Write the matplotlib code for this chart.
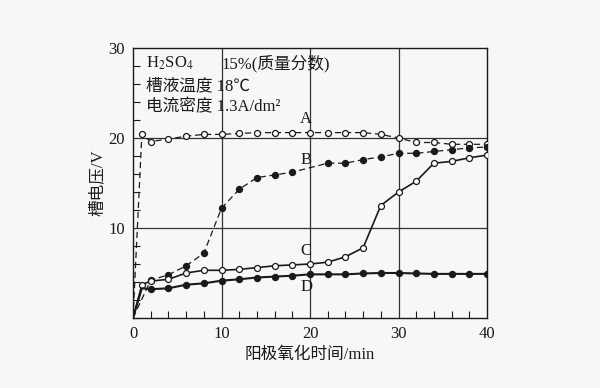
import matplotlib.pyplot as plt
from matplotlib.ticker import MultipleLocator

plt.rcParams['font.family'] = ['Liberation Serif', 'Noto Sans CJK SC']
plt.rcParams['mathtext.fontset'] = 'stix'

# curve data (time in min, cell voltage in V)
a_x = [0, 1, 2, 4, 6, 8, 10, 12, 14, 16, 18, 20, 22, 24, 26, 28, 30, 32, 34, 36, 38, 40]
a_y = [0, 20.4, 19.6, 19.9, 20.2, 20.4, 20.4, 20.5, 20.6, 20.6, 20.6, 20.6, 20.6, 20.6, 20.6, 20.4, 20.0, 19.5, 19.5, 19.3, 19.3, 19.3]

b_x = [0, 2, 4, 6, 8, 10, 12, 14, 16, 18, 22, 24, 26, 28, 30, 32, 34, 36, 38, 40]
b_y = [0, 4.2, 4.8, 5.8, 7.2, 12.2, 14.3, 15.6, 15.9, 16.2, 17.2, 17.2, 17.6, 17.9, 18.3, 18.3, 18.5, 18.7, 18.9, 19.0]

c_x = [0, 1, 2, 4, 6, 8, 10, 12, 14, 16, 18, 20, 22, 24, 26, 28, 30, 32, 34, 36, 38, 40]
c_y = [0, 3.7, 4.1, 4.3, 5.0, 5.3, 5.3, 5.4, 5.6, 5.8, 5.9, 6.0, 6.2, 6.8, 7.8, 12.5, 14.0, 15.2, 17.2, 17.4, 17.8, 18.1]

d_x = [0, 1, 2, 4, 6, 8, 10, 12, 14, 16, 18, 20, 22, 24, 26, 28, 30, 32, 34, 36, 38, 40]
d_y = [0, 3.3, 3.2, 3.3, 3.7, 3.85, 4.15, 4.3, 4.5, 4.6, 4.7, 4.85, 4.85, 4.85, 4.95, 5.0, 5.0, 4.95, 4.9, 4.9, 4.9, 4.9]

bg = '#f7f7f7'
fig = plt.figure(figsize=(6, 3.88), dpi=100, facecolor=bg)
ax = fig.add_axes([0.2217, 0.1804, 0.59, 0.6959])
ax.set_facecolor(bg)

ink = '#1a1a1a'
ms = 4.3
ax.plot(a_x, a_y, color=ink, lw=0.9, ls=(0, (5, 3)), marker='o', ms=ms,
        mfc='white', mec=ink, mew=0.9, markevery=list(range(1, len(a_x))), zorder=3)
ax.plot(b_x, b_y, color=ink, lw=0.9, ls=(0, (5, 3)), marker='o', ms=ms,
        mfc=ink, mec=ink, markevery=list(range(1, len(b_x))), zorder=3)
ax.plot(c_x, c_y, color=ink, lw=1.2, marker='o', ms=ms,
        mfc='white', mec=ink, mew=0.9, markevery=list(range(1, len(c_x))), zorder=3)
ax.plot(d_x, d_y, color=ink, lw=1.5, marker='o', ms=ms,
        mfc=ink, mec=ink, markevery=list(range(2, len(d_x))), zorder=3)

ax.set_xlim(0, 40)
ax.set_ylim(0, 30)
ax.set_xticks([0, 10, 20, 30, 40])
ax.set_yticks([10, 20, 30])
ax.xaxis.set_minor_locator(MultipleLocator(2))
ax.yaxis.set_minor_locator(MultipleLocator(2))
ax.tick_params(which='both', direction='in', top=False, right=False, colors=ink, labelsize=12)
ax.tick_params(which='major', length=0, pad=6)
ax.tick_params(which='minor', length=5, width=0.8)
for x in [10, 20, 30]:
    ax.axvline(x, color='#333333', lw=0.9, zorder=1)
for y in [10, 20]:
    ax.axhline(y, color='#333333', lw=0.9, zorder=1)
for s in ax.spines.values():
    s.set_color(ink)
    s.set_linewidth(1.0)

ax.set_xlabel('阳极氧化时间/min', fontsize=12, color=ink, labelpad=3)
ax.set_ylabel('槽电压/V', fontsize=12, color=ink, labelpad=2)

ax.text(1.5, 28.3, 'H$_2$SO$_4$', fontsize=12, color=ink, va='center')
ax.text(10, 28.3, '15%(质量分数)', fontsize=12, color=ink, va='center')
ax.text(1.5, 25.8, '槽液温度 18℃', fontsize=12, color=ink, va='center')
ax.text(1.5, 23.4, '电流密度 1.3A/dm²', fontsize=12, color=ink, va='center')

ax.text(18.9, 22.1, 'A', fontsize=12, color=ink, va='center')
ax.text(18.9, 17.6, 'B', fontsize=12, color=ink, va='center')
ax.text(18.9, 7.4, 'C', fontsize=12, color=ink, va='center')
ax.text(18.9, 3.4, 'D', fontsize=12, color=ink, va='center')

fig.savefig('out.png', dpi=100, facecolor=bg)
